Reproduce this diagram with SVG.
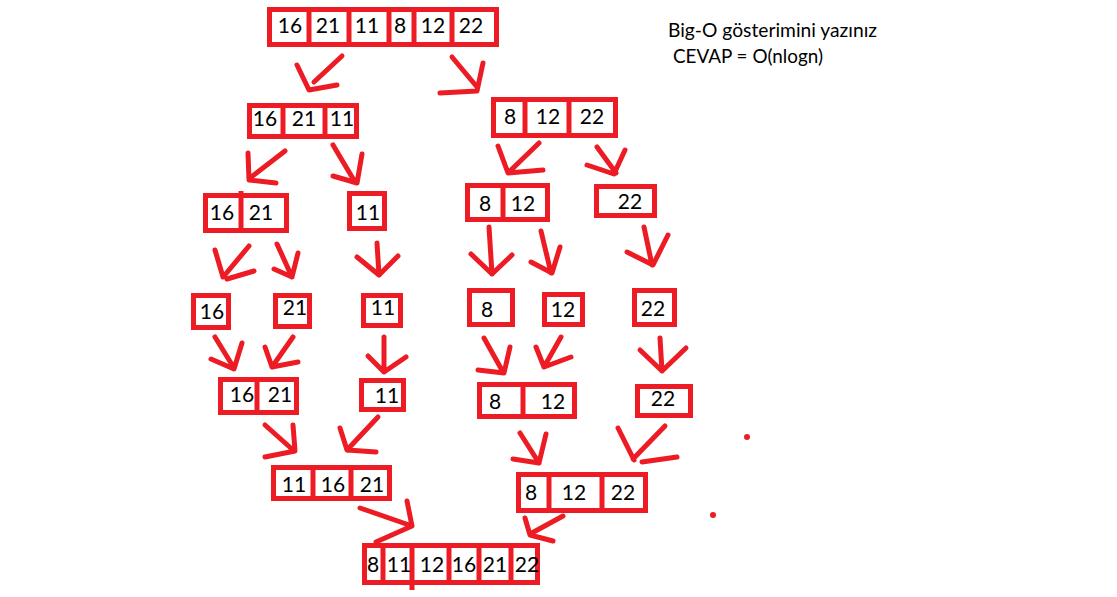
<svg xmlns="http://www.w3.org/2000/svg" width="1117" height="597" viewBox="0 0 1117 597">
<style>
.b{fill:none;stroke:#ED1C24;stroke-width:5}
.d{stroke:#ED1C24;stroke-width:5}
.n{font-family:Lato,"Liberation Sans",sans-serif;font-size:21px;fill:#000;text-anchor:middle}
.a{fill:none;stroke:#ED1C24;stroke-width:5;stroke-linecap:round;stroke-linejoin:round}
.t{font-family:Lato,"Liberation Sans",sans-serif;font-size:19px;fill:#000}
</style>
<rect width="1117" height="597" fill="#fff"/>
<g id="n-top">
<rect class="b" x="269.5" y="9.5" width="227" height="35"/>
<path class="d" d="M309 9.5V44.5M349 9.5V44.5M389 9.5V44.5M414 9.5V44.5M452 9.5V44.5"/>
<text class="n" x="290" y="33">16</text><text class="n" x="328" y="33">21</text><text class="n" x="367" y="33">11</text><text class="n" x="400" y="33">8</text><text class="n" x="433" y="33">12</text><text class="n" x="471" y="33">22</text>
</g>
<g id="n-l1">
<rect class="b" x="249.5" y="105.5" width="107" height="31"/>
<path class="d" d="M283 105.5V136.5M325 105.5V136.5"/>
<text class="n" x="265" y="126">16</text><text class="n" x="304" y="126">21</text><text class="n" x="342" y="126">11</text>
</g>
<g id="n-r1">
<rect class="b" x="493.5" y="99.5" width="122" height="36"/>
<path class="d" d="M525 99.5V135.5M569 99.5V135.5"/>
<text class="n" x="510" y="124">8</text><text class="n" x="548" y="124">12</text><text class="n" x="592" y="124">22</text>
</g>
<g id="n-l2a">
<rect class="b" x="205.5" y="195.5" width="81" height="35"/>
<path class="d" d="M241 191V233"/>
<text class="n" x="222" y="220">16</text><text class="n" x="261" y="220">21</text>
</g>
<g id="n-l2b">
<rect class="b" x="349.5" y="193.5" width="35" height="35"/>
<text class="n" x="368" y="220">11</text>
</g>
<g id="n-r2a">
<rect class="b" x="467.5" y="185.5" width="80" height="34"/>
<path class="d" d="M503 185.5V219.5"/>
<text class="n" x="485" y="211">8</text><text class="n" x="523" y="211">12</text>
</g>
<g id="n-r2b">
<rect class="b" x="596.5" y="186.5" width="58" height="29"/>
<text class="n" x="630" y="209">22</text>
</g>
<g id="n-16">
<rect class="b" x="193.5" y="295.5" width="35" height="32"/>
<text class="n" x="212" y="319">16</text>
</g>
<g id="n-21">
<rect class="b" x="275.5" y="295.5" width="34" height="31"/>
<text class="n" x="295" y="315">21</text>
</g>
<g id="n-11">
<rect class="b" x="363.5" y="295.5" width="37" height="30"/>
<text class="n" x="383" y="315">11</text>
</g>
<g id="n-8">
<rect class="b" x="469.5" y="290.5" width="43" height="34"/>
<text class="n" x="487" y="317">8</text>
</g>
<g id="n-12">
<rect class="b" x="544.5" y="294.5" width="38" height="30"/>
<text class="n" x="563" y="317">12</text>
</g>
<g id="n-22">
<rect class="b" x="634.5" y="290.5" width="40" height="34"/>
<text class="n" x="653" y="316">22</text>
</g>
<g id="n-m1621">
<rect class="b" x="220.5" y="379.5" width="76" height="33"/>
<path class="d" d="M257 379.5V415"/>
<text class="n" x="242" y="402">16</text><text class="n" x="280" y="402">21</text>
</g>
<g id="n-m11">
<rect class="b" x="361.5" y="380.5" width="42" height="29"/>
<text class="n" x="387" y="403">11</text>
</g>
<g id="n-m812">
<rect class="b" x="479.5" y="384.5" width="95" height="32"/>
<path class="d" d="M523 384.5V416.5"/>
<text class="n" x="495" y="409">8</text><text class="n" x="553" y="409">12</text>
</g>
<g id="n-m22">
<rect class="b" x="637.5" y="386.5" width="53" height="29"/>
<text class="n" x="663" y="406">22</text>
</g>
<g id="n-m111621">
<rect class="b" x="273.5" y="467.5" width="116" height="31"/>
<path class="d" d="M313 467.5V498.5M351 467.5V498.5"/>
<text class="n" x="294" y="492">11</text><text class="n" x="333" y="492">16</text><text class="n" x="372" y="492">21</text>
</g>
<g id="n-m81222">
<rect class="b" x="518.5" y="474.5" width="127" height="36"/>
<path class="d" d="M549 474.5V510.5M602 472V510.5"/>
<text class="n" x="531" y="500">8</text><text class="n" x="574" y="500">12</text><text class="n" x="623" y="500">22</text>
</g>
<g id="n-final">
<rect class="b" x="364.5" y="545.5" width="173" height="37"/>
<path class="d" d="M383 545.5V582.5M412 548V590M449 545.5V582.5M479 545.5V582.5M511 543V582.5"/>
<text class="n" x="373" y="572">8</text><text class="n" x="399" y="572">11</text><text class="n" x="432" y="572">12</text><text class="n" x="464" y="572">16</text><text class="n" x="495" y="572">21</text><text class="n" x="527" y="572">22</text>
</g>
<g id="connectors">
<path class="a" d="M342 56L314 82M297 65L309 90L337 85"/>
<path class="a" d="M452 57L477 87M483 63L477 91L440 93"/>
<path class="a" d="M285 151L250 178M248 153L249 180L276 183"/>
<path class="a" d="M333 145L355 182M362 154L357 183L333 176"/>
<path class="a" d="M539 143L509 172M498 146L508 173L543 170"/>
<path class="a" d="M597 147L616 173M625 150L614 174L587 165"/>
<path class="a" d="M249 246L224 276M215 250L223 277M227 279L254 271"/>
<path class="a" d="M277 244L292 277M298 253L292 277L274 269"/>
<path class="a" d="M377 243L379 275M357 257L379 275L398 256"/>
<path class="a" d="M489 227L492 274M471 254L492 274L512 255"/>
<path class="a" d="M541 231L551 273M560 247L552 273L531 262"/>
<path class="a" d="M644 227L652 265M668 235L653 265L627 252"/>
<path class="a" d="M215 337L234 368M242 343L234 369L211 359"/>
<path class="a" d="M293 337L272 367M265 347L272 367L298 362"/>
<path class="a" d="M384 337L384 372M368 356L384 372L406 357"/>
<path class="a" d="M484 338L503 372M510 347L504 373L478 370"/>
<path class="a" d="M561 337L544 367M536 347L544 367L571 357"/>
<path class="a" d="M660 338L662 371M640 350L662 371L686 348"/>
<path class="a" d="M265 425L293 450M293 425L295 451L265 457"/>
<path class="a" d="M378 417L347 450M340 428L347 450L376 452"/>
<path class="a" d="M520 433L539 463M546 434L539 463L513 459"/>
<path class="a" d="M665 426L633 459M618 428L634 460M642 462L677 457"/>
<path class="a" d="M360 508L412 526M407 501L412 526L376 542"/>
<path class="a" d="M563 516L530 534M525 518L530 535L553 541"/>
</g>
<g id="dots" fill="#ED1C24">
<circle cx="747" cy="437" r="3"/>
<circle cx="713" cy="515" r="3"/>
</g>
<g id="note">
<text class="t" x="668" y="37" textLength="209" lengthAdjust="spacingAndGlyphs">Big-O gösterimini yazınız</text>
<text class="t" x="673" y="63" textLength="150" lengthAdjust="spacingAndGlyphs">CEVAP = O(nlogn)</text>
</g>
</svg>
